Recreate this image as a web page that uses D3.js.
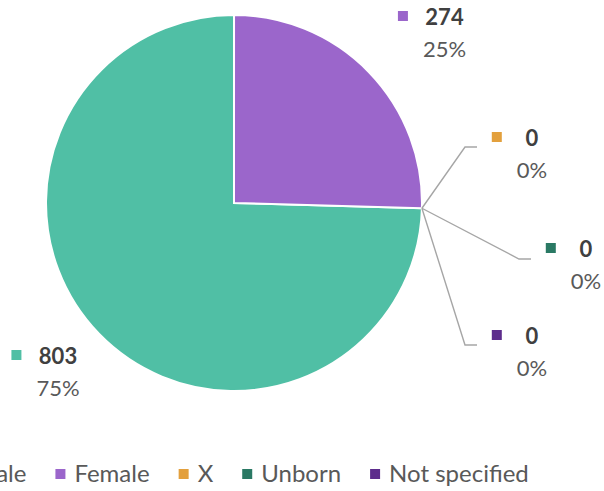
<!DOCTYPE html>
<html>
<head>
<meta charset="utf-8">
<script src="https://cdn.jsdelivr.net/npm/d3@7"></script>
<style>
  body { margin: 0; background: #fff; }
  svg { display: block; }
</style>
</head>
<body>
<div class="container"></div>
<script>
const categories = ["Male", "Female", "X", "Unborn", "Not specified"];
const counts = [803, 274, 0, 0, 0];
const percents = ["75%", "25%", "0%", "0%", "0%"];
const colorsList = ["#50bfa5", "#9b66cb", "#e3a03d", "#2a7964", "#5d2c8c"];

d3.select(".container").call(chart);

function chart(container) {
  //size
  const width = 604;
  const height = 491;
  const cx = 234;
  const cy = 203;
  const radius = 188;
  const font = "Lato, 'Open Sans', sans-serif";

  const color = d3.scaleOrdinal().domain(categories).range(colorsList);

  const data = categories.map((c, i) => ({ name: c, value: counts[i], pct: percents[i] }));

  // excel "angle of first slice" ~ 91.6deg
  const start = (91.6 * Math.PI) / 180;
  const pie = d3.pie().sort(null).value((d) => d.value)
    .startAngle(start).endAngle(start + 2 * Math.PI);
  const arcs = pie(data);
  const arc = d3.arc().innerRadius(0).outerRadius(radius);

  const svg = container.append("svg").attr("width", width).attr("height", height);

  const g = svg.append("g").attr("transform", `translate(${cx},${cy})`);

  g.selectAll("path")
    .data(arcs.filter((d) => d.value > 0))
    .join("path")
    .attr("d", arc)
    .attr("fill", (d) => color(d.data.name))
    .attr("stroke", "white")
    .attr("stroke-width", 2);

  // label text centres (value line), relative to pie centre
  const labelPos = {
    Male: [-176, 155],
    Female: [210.5, -184],
    X: [298, -63],
    Unborn: [352, 48],
    "Not specified": [298, 135],
  };
  // leader elbows for zero slices
  const elbow = {
    X: [[231, -56], [243, -56]],
    Unborn: [[285, 56], [297, 56]],
    "Not specified": [[231, 142], [243, 142]],
  };

  const labels = g.selectAll("g.label").data(arcs).join("g").attr("class", "label");

  labels.each(function (d) {
    const name = d.data.name;
    const [lx, ly] = labelPos[name];
    const sel = d3.select(this);
    if (elbow[name]) {
      const a = d.startAngle;
      const edge = [radius * Math.sin(a), -radius * Math.cos(a)];
      sel.append("polyline")
        .attr("points", [edge, ...elbow[name]].map((p) => p.join(",")).join(" "))
        .attr("fill", "none")
        .attr("stroke", "#a6a6a6")
        .attr("stroke-width", 1.4);
    }
    sel.append("text")
      .attr("x", lx)
      .attr("y", ly)
      .attr("dominant-baseline", "middle")
      .attr("text-anchor", "middle")
      .attr("font-family", font)
      .attr("font-weight", "bold")
      .attr("font-size", 22)
      .attr("fill", "#404040")
      .text(d3.format("d")(d.data.value));
    const pct = sel.append("text")
      .attr("x", lx)
      .attr("y", ly + 32)
      .attr("dominant-baseline", "middle")
      .attr("text-anchor", "middle")
      .attr("font-family", font)
      .attr("font-size", 22)
      .attr("fill", "#595959")
      .text(d.data.pct);
    const pw = pct.node().getComputedTextLength();
    sel.append("rect")
      .attr("x", lx - pw / 2 - 25)
      .attr("y", ly - 8)
      .attr("width", 10)
      .attr("height", 10)
      .attr("fill", color(name));
  });

  //legend
  const legend = svg.append("g").attr("transform", `translate(0, ${476})`);
  const items = legend.selectAll("g").data(categories).join("g");
  items.append("rect")
    .attr("y", -7)
    .attr("width", 10)
    .attr("height", 10)
    .attr("fill", (d) => color(d));
  items.append("text")
    .attr("x", 19)
    .attr("y", 0)
    .attr("dominant-baseline", "middle")
    .attr("font-family", font)
    .attr("font-size", 24)
    .attr("fill", "#595959")
    .text((d) => d);

  const widths = [];
  items.each(function () {
    widths.push(19 + d3.select(this).select("text").node().getComputedTextLength());
  });
  const total = d3.sum(widths) + 29 * (widths.length - 1);
  let x = 242 - total / 2;
  items.each(function (d, i) {
    d3.select(this).attr("transform", `translate(${x},0)`);
    x += widths[i] + 29;
  });
}
</script>
</body>
</html>
